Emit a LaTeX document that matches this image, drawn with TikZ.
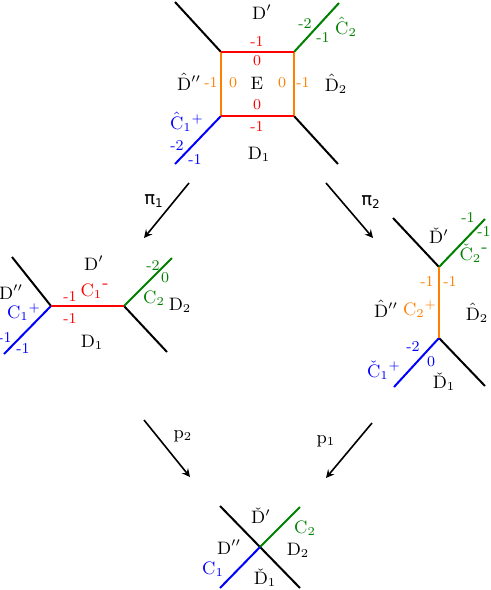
\documentclass[tikz,border=0pt]{standalone}
\usepackage{fontspec}
\newfontfamily\pifont{DejaVu Sans}
\definecolor{dkgreen}{rgb}{0,0.5,0}
\definecolor{orng}{rgb}{1,0.5,0}
\newcommand{\Dh}{$\hat{\mathrm{D}}$}
\newcommand{\Dc}{$\check{\mathrm{D}}$}
\begin{document}
\begin{tikzpicture}[x=0.5pt,y=-0.5pt, font=\small, inner sep=0.5pt,
  crv/.style={line width=1pt},
  num/.style={font=\fontsize{7.5}{9}\selectfont},
  map/.style={-stealth, line width=0.8pt}]
  \useasboundingbox (0,0) rectangle (491,590);
  % Top: blown-up surface with the square E
  \coordinate (tl) at (221,52);
  \coordinate (tr) at (294,52);
  \coordinate (bl) at (221,116);
  \coordinate (br) at (294,116);
  \coordinate (tlo) at (175,2);
  \coordinate (tro) at (339,3);
  \coordinate (blo) at (175,164);
  \coordinate (bro) at (338,164);
  \draw[crv] (tlo) -- (tl);
  \draw[crv] (br) -- (bro);
  \draw[crv, dkgreen] (tr) -- (tro);
  \draw[crv, blue] (bl) -- (blo);
  \draw[crv, orng] (tl) -- (bl);
  \draw[crv, orng] (tr) -- (br);
  \draw[crv, red] (tl) -- (tr);
  \draw[crv, red] (bl) -- (br);
  \node (tDp) at (262,12) {D$'$};
  \node[num, red] (tn1) at (257,42) {-1};
  \node[num, red] (tn2) at (257,61) {0};
  \node[num, red] (tn3) at (257,105) {0};
  \node[num, red] (tn4) at (257,127) {-1};
  \node (tDpp) at (189,82) {\Dh$''$};
  \node[num, orng] (tn5) at (211,83) {-1};
  \node[num, orng] (tn6) at (233,83) {0};
  \node (tE) at (257,83) {E};
  \node[num, orng] (tn7) at (282,83) {0};
  \node[num, orng] (tn8) at (303,83) {-1};
  \node (tD2) at (336,84) {$\hat{\mathrm{D}}_2$};
  \node[dkgreen] (tC2) at (346,27) {$\hat{\mathrm{C}}_2$};
  \node[num, dkgreen] (tn9) at (305,24) {-2};
  \node[num, dkgreen] (tn10) at (323,38) {-1};
  \node[blue] (tC1) at (187,122) {$\hat{\mathrm{C}}_1{}^{+}$};
  \node[num, blue] (tn11) at (177,146) {-2};
  \node[num, blue] (tn12) at (195,160) {-1};
  \node (tD1) at (259,154) {D$_1$};
  % Maps pi_1 and pi_2
  \coordinate (pa) at (189,183);
  \coordinate (pb) at (144,238);
  \coordinate (pc) at (326,183);
  \coordinate (pd) at (373,238);
  \draw[map] (pa) -- (pb);
  \draw[map] (pc) -- (pd);
  \node (pi1) at (154,201) {\pifont π\textsubscript{1}};
  \node (pi2) at (371,202) {\pifont π\textsubscript{2}};
  % Left: C_1^- between the two vertices
  \coordinate (lv) at (51,306);
  \coordinate (rv) at (124,306);
  \coordinate (lvu) at (12,257);
  \coordinate (lvd) at (4,354);
  \coordinate (rvu) at (172,258);
  \coordinate (rvd) at (167,352);
  \draw[crv] (lvu) -- (lv);
  \draw[crv] (rv) -- (rvd);
  \draw[crv, blue] (lv) -- (lvd);
  \draw[crv, dkgreen] (rv) -- (rvu);
  \draw[crv, red] (lv) -- (rv);
  \node (lDp) at (94,263) {D$'$};
  \node (lDpp) at (11,292) {D$''$};
  \node[blue] (lC1) at (24,312) {C$_1{}^{+}$};
  \node[num, blue] (ln1) at (5,338) {-1};
  \node[num, blue] (ln2) at (23,349) {-1};
  \node[num, red] (ln3) at (70,297) {-1};
  \node[red] (lC1m) at (95,291) {C$_1{}^{\mbox{-}}$};
  \node[num, red] (ln4) at (70,319) {-1};
  \node[num, dkgreen] (ln5) at (153,266) {-2};
  \node[num, dkgreen] (ln6) at (165,278) {0};
  \node[dkgreen] (lC2) at (154,298) {C$_2$};
  \node (lD2) at (180,305) {D$_2$};
  \node (lD1) at (92,342) {D$_1$};
  % Right: C_2^+ between the two vertices
  \coordinate (uv) at (439,267);
  \coordinate (dv) at (439,338);
  \coordinate (uvl) at (393,218);
  \coordinate (uvr) at (485,219);
  \coordinate (dvl) at (394,387);
  \coordinate (dvr) at (485,386);
  \draw[crv] (uvl) -- (uv);
  \draw[crv] (dv) -- (dvr);
  \draw[crv, dkgreen] (uv) -- (uvr);
  \draw[crv, blue] (dv) -- (dvl);
  \draw[crv, orng] (uv) -- (dv);
  \node (rDp) at (439,236) {\Dc$'$};
  \node[num, dkgreen] (rn1) at (468,218) {-1};
  \node[num, dkgreen] (rn2) at (484,232) {-1};
  \node[dkgreen] (rC2) at (474,253) {$\check{\mathrm{C}}_2{}^{\mbox{-}}$};
  \node[num, orng] (rn3) at (427,282) {-1};
  \node[num, orng] (rn4) at (450,282) {-1};
  \node[orng] (rC2p) at (420,309) {C$_2{}^{+}$};
  \node (rDpp) at (386,309) {\Dh$''$};
  \node (rD2) at (477,313) {$\hat{\mathrm{D}}_2$};
  \node[num, blue] (rn5) at (413,347) {-2};
  \node[num, blue] (rn6) at (431,362) {0};
  \node[blue] (rC1) at (384,370) {$\check{\mathrm{C}}_1{}^{+}$};
  \node (rD1) at (444,382) {$\check{\mathrm{D}}_1$};
  % Maps p_2 and p_1
  \coordinate (qa) at (144,420);
  \coordinate (qb) at (190,477);
  \coordinate (qc) at (372,423);
  \coordinate (qd) at (326,478);
  \draw[map] (qa) -- (qb);
  \draw[map] (qc) -- (qd);
  \node (p2) at (183,436) {p$_2$};
  \node (p1) at (326,441) {p$_1$};
  % Bottom: the four curves through one point
  \coordinate (cv) at (260,547);
  \coordinate (cul) at (220,506);
  \coordinate (cdr) at (300,588);
  \coordinate (cur) at (300,507);
  \coordinate (cdl) at (220,588);
  \draw[crv] (cul) -- (cdr);
  \draw[crv, dkgreen] (cv) -- (cur);
  \draw[crv, blue] (cv) -- (cdl);
  \node (bDp) at (261,516) {\Dc$'$};
  \node[dkgreen] (bC2) at (305,528) {C$_2$};
  \node (bDpp) at (229,547) {D$''$};
  \node (bD2) at (298,550) {D$_2$};
  \node[blue] (bC1) at (213,569) {C$_1$};
  \node (bD1) at (265,578) {$\check{\mathrm{D}}_1$};
\end{tikzpicture}
\end{document}
